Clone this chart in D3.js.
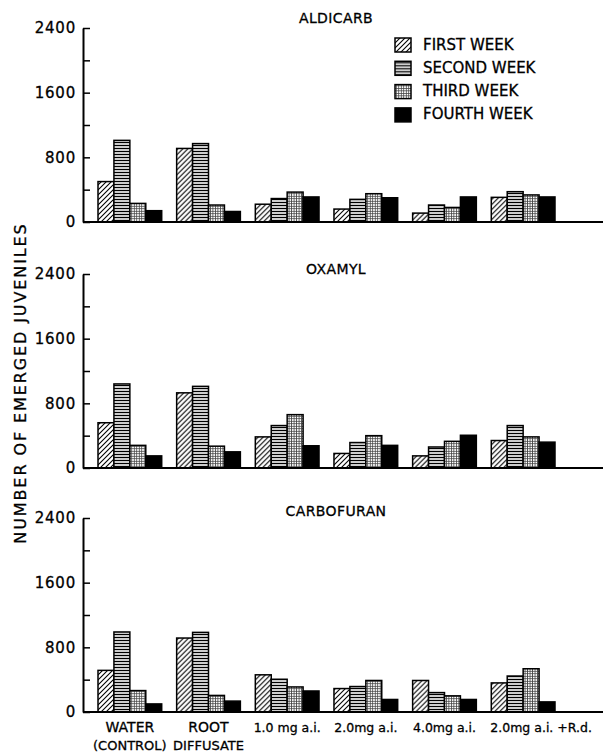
<!DOCTYPE html>
<html>
<head>
<meta charset="utf-8">
<script src="https://cdn.jsdelivr.net/npm/d3@7"></script>
<style>
body { margin: 0; background: #fff; }
text { font-family: "DejaVu Sans", sans-serif; fill: #000; stroke: #000; stroke-width: 0.3; }
</style>
</head>
<body>
<div id="chart_div"></div>
<script>
var categories = ["water", "root", "1.0", "2.0", "4.0", "2.0rd"];
var x_labels = [["WATER", "(CONTROL)"], ["ROOT", "DIFFUSATE"], ["1.0 mg a.i."],
		["2.0mg a.i."], ["4.0mg a.i."], ["2.0mg a.i. +R.d."]];
var weeks = ["FIRST WEEK", "SECOND WEEK", "THIRD WEEK", "FOURTH WEEK"];
var panel_names = ["ALDICARB", "OXAMYL", "CARBOFURAN"];
var y_ticks = [0, 400, 800, 1200, 1600, 2000, 2400];

// one row per category, the four weeks in order
var aldicarb = [[500, 1010, 230, 140],
		[910, 970, 210, 130],
		[220, 290, 370, 310],
		[160, 280, 350, 300],
		[110, 210, 180, 310],
		[305, 375, 335, 310]];
var oxamyl = [[560, 1040, 280, 150],
	      [930, 1010, 270, 200],
	      [385, 525, 660, 275],
	      [180, 315, 400, 280],
	      [150, 260, 330, 405],
	      [340, 525, 385, 320]];
var carbofuran = [[515, 990, 265, 100],
		  [915, 985, 205, 135],
		  [460, 405, 310, 260],
		  [290, 315, 390, 155],
		  [390, 240, 200, 155],
		  [360, 445, 535, 125]];
var panel_data = [aldicarb, oxamyl, carbofuran];

var chart = (function () {
    var width = 603;
    var height = 754;
    var axis_x = 83;
    var panel_h = 194;
    var baselines = [222, 468, 712];
    var title_dy = [-5, 0, -2];

    var svg = d3.select("#chart_div")
	.append("svg")
	.attr("width", width)
	.attr("height", height);

    // fill patterns for the weeks
    var defs = svg.append("defs");

    var hatch = defs.append("pattern")
	.attr("id", "week1")
	.attr("patternUnits", "userSpaceOnUse")
	.attr("width", 5)
	.attr("height", 5);
    hatch.append("rect").attr("width", 5).attr("height", 5).attr("fill", "#fff");
    hatch.append("path")
	.attr("d", "M-1,1 l2,-2 M0,5 l5,-5 M4,6 l2,-2")
	.attr("stroke", "#000")
	.attr("stroke-width", 1.1);

    var hlines = defs.append("pattern")
	.attr("id", "week2")
	.attr("patternUnits", "userSpaceOnUse")
	.attr("width", 4)
	.attr("height", 3);
    hlines.append("rect").attr("width", 4).attr("height", 3).attr("fill", "#fff");
    hlines.append("path")
	.attr("d", "M0,1.5 h4")
	.attr("stroke", "#000")
	.attr("stroke-width", 1.4);

    var grid = defs.append("pattern")
	.attr("id", "week3")
	.attr("patternUnits", "userSpaceOnUse")
	.attr("width", 2.5)
	.attr("height", 2.5);
    grid.append("rect").attr("width", 2.5).attr("height", 2.5).attr("fill", "#fff");
    grid.append("path")
	.attr("d", "M0,1.25 h2.5 M1.25,0 v2.5")
	.attr("stroke", "#444")
	.attr("stroke-width", 0.8);

    var fills = ["url(#week1)", "url(#week2)", "url(#week3)", "#000"];

    var x = d3.scaleBand()
	.domain(categories)
	.range([98, 555])
	.paddingInner(0.19)
	.paddingOuter(0);

    var xWeek = d3.scaleBand()
	.domain(d3.range(weeks.length))
	.range([0, x.bandwidth()]);

    panel_data.forEach(function (rows, p) {
	var y0 = baselines[p];
	var y = d3.scaleLinear()
	    .domain([0, 2400])
	    .range([y0, y0 - panel_h]);

	var g = svg.append("g");

	// bars
	var groups = g.selectAll(".group")
	    .data(rows)
	    .enter()
	    .append("g")
	    .attr("class", "group")
	    .attr("transform", (d, i) => "translate(" + x(categories[i]) + ",0)");

	groups.selectAll("rect")
	    .data(d => d)
	    .enter()
	    .append("rect")
	    .attr("x", (d, i) => xWeek(i))
	    .attr("y", d => y(d))
	    .attr("width", xWeek.bandwidth())
	    .attr("height", d => y(0) - y(d))
	    .attr("fill", (d, i) => fills[i])
	    .attr("stroke", "#000")
	    .attr("stroke-width", 1.5);

	// base line runs off the right edge
	g.append("line")
	    .attr("x1", axis_x)
	    .attr("x2", width)
	    .attr("y1", y(0))
	    .attr("y2", y(0))
	    .attr("stroke", "#000")
	    .attr("stroke-width", 2);

	var axis = d3.axisLeft(y)
	    .tickValues(y_ticks)
	    .tickSizeInner(-7)
	    .tickSizeOuter(0)
	    .tickPadding(7)
	    .tickFormat(d => d % 800 == 0 ? d : "");

	var ax = g.append("g")
	    .attr("transform", "translate(" + axis_x + ",0)")
	    .call(axis);
	ax.select(".domain").attr("stroke-width", 2);
	ax.selectAll(".tick line").attr("stroke-width", 1.5);
	ax.selectAll(".tick text")
	    .attr("font-family", "DejaVu Sans")
	    .attr("font-size", 15)
	    .attr("letter-spacing", 0.8);

	g.append("text")
	    .attr("x", 336)
	    .attr("y", y(2400) + title_dy[p])
	    .attr("text-anchor", "middle")
	    .attr("font-size", 14)
	    .attr("letter-spacing", 0.4)
	    .text(panel_names[p]);
    });

    // category labels under the last panel
    var lab = svg.selectAll(".xlab")
	.data(x_labels)
	.enter()
	.append("text")
	.attr("class", "xlab")
	.attr("font-size", (d, i) => i < 2 ? 14 : 12.5)
	.attr("text-anchor", (d, i) => i == 5 ? "start" : "middle")
	.attr("transform", (d, i) => i == 5 ?
	      "translate(" + (x(categories[i]) - 1) + ",732)" :
	      "translate(" + (x(categories[i]) + x.bandwidth() / 2) + ",732)");

    lab.selectAll("tspan")
	.data(d => d)
	.enter()
	.append("tspan")
	.attr("x", 0)
	.attr("dy", (d, i) => i == 0 ? 0 : 18)
	.attr("font-size", (d, i) => i == 0 ? null : 13)
	.text(d => d);

    // legend in the top panel
    var legend = svg.selectAll(".legend")
	.data(weeks)
	.enter()
	.append("g")
	.attr("class", "legend")
	.attr("transform", (d, i) => "translate(395," + (38 + i * 23.3) + ")");

    legend.append("rect")
	.attr("width", 16)
	.attr("height", 14)
	.attr("fill", (d, i) => fills[i])
	.attr("stroke", "#000")
	.attr("stroke-width", 1.5);

    legend.append("text")
	.attr("x", 28)
	.attr("y", 11.5)
	.attr("font-size", 15)
	.text(d => d);

    svg.append("text")
	.attr("transform", "translate(26,383) rotate(-90)")
	.attr("text-anchor", "middle")
	.attr("font-size", 16)
	.attr("letter-spacing", 1.9)
	.text("NUMBER OF EMERGED JUVENILES");
})();
</script>
</body>
</html>
